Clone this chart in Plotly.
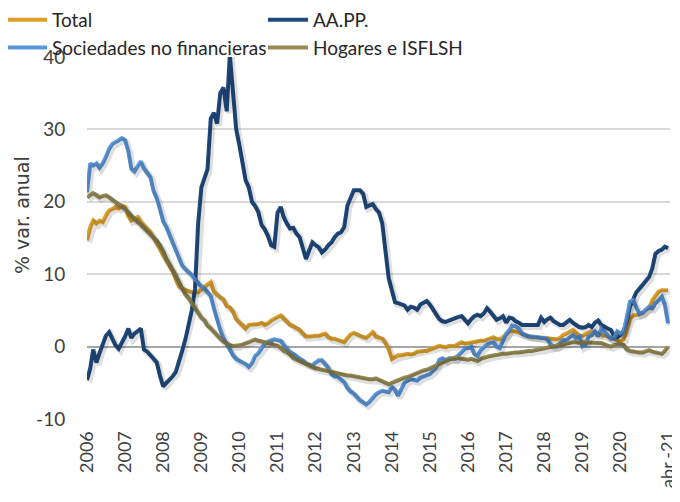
import pandas as pd
import plotly.graph_objects as go

# Monthly dates: Jan 2006 .. Apr 2021
months = pd.date_range("2006-01-01", "2021-04-01", freq="MS")

tick_dates = [f"{y}-01-01" for y in range(2006, 2021)] + ["2021-04-01"]
tick_labels = [str(y) for y in range(2006, 2021)] + ["abr.-21"]
y_ticks = [-10, 0, 10, 20, 30, 40]
y_tick_labels = ["-10", "0", "10", "20", "30", "40"]

series_names = ["Total", "AA.PP.", "Sociedades no financieras", "Hogares e ISFLSH"]

total = [
    14.7, 16.5, 17.4, 17.0, 17.4, 17.2, 18.1, 18.8, 19.0, 19.3, 19.1, 19.5,  # 2006
    19.3, 18.0, 17.4, 17.6, 17.9, 17.2, 16.8, 16.3, 15.8, 15.1, 14.4, 13.5,  # 2007
    12.6, 11.9, 11.2, 10.4, 9.3, 8.3, 8.0, 7.8, 7.6, 7.5, 7.5, 7.5,          # 2008
    7.9, 8.2, 8.6, 8.9, 7.6, 7.1, 6.8, 6.5, 5.6, 5.4, 4.8, 3.8,              # 2009
    3.3, 3.0, 2.5, 3.0, 3.1, 3.1, 3.1, 3.3, 3.0, 3.2, 3.6, 3.9,              # 2010
    4.1, 4.3, 3.9, 3.5, 3.0, 2.8, 2.6, 2.3, 1.8, 1.4, 1.4, 1.5,              # 2011
    1.5, 1.5, 1.6, 1.8, 1.3, 1.1, 1.1, 0.9, 0.8, 0.6, 1.2, 1.7,              # 2012
    1.9, 1.7, 1.4, 1.3, 1.2, 1.6, 2.0, 1.4, 1.3, 1.1, 0.5, -0.3,             # 2013
    -1.7, -1.5, -1.2, -1.2, -1.1, -1.0, -1.1, -1.0, -0.7, -0.6, -0.6, -0.6,  # 2014
    -0.4, -0.3, -0.1, 0.1, 0.0, -0.1, 0.1, 0.1, 0.1, 0.4, 0.6, 0.4,          # 2015
    0.5, 0.6, 0.7, 0.8, 0.8, 0.8, 1.0, 1.2, 1.3, 1.0, 1.0, 1.3,              # 2016
    1.8, 2.1, 2.2, 2.1, 2.0, 1.8, 1.6, 1.4, 1.3, 1.3, 1.3, 1.3,              # 2017
    1.3, 1.2, 1.1, 1.1, 1.0, 1.2, 1.6, 1.8, 2.0, 2.3, 1.9, 1.5,              # 2018
    1.5, 1.7, 1.9, 2.1, 2.0, 1.8, 1.6, 1.5, 1.4, 1.2, 1.0, 0.8,              # 2019
    0.7, 1.0, 2.5, 3.9, 4.3, 4.4, 4.4, 4.6, 5.1, 5.3, 6.4, 7.1,              # 2020
    7.6, 7.8, 7.8, 7.8,                                                      # 2021
]

aapp = [
    -4.6, -3.0, -0.4, -2.2, -0.9, 0.3, 1.5, 2.0, 1.0, 0.2, -0.3, 0.5,        # 2006
    1.4, 2.5, 1.2, 1.8, 2.1, 2.5, -0.4, -0.7, -1.2, -1.8, -2.2, -4.0,        # 2007
    -5.5, -5.0, -4.6, -4.1, -3.5, -2.2, -0.6, 1.0, 2.8, 5.0, 8.0, 17.0,      # 2008
    22.0, 23.5, 24.5, 31.5, 32.3, 30.8, 35.0, 35.8, 32.5, 40.3, 35.5, 30.0,  # 2009
    27.8, 25.0, 23.0, 22.0, 20.0, 19.4, 18.6, 16.8, 16.2, 15.3, 14.0, 13.8,  # 2010
    18.5, 19.3, 17.9, 17.0, 16.3, 16.4, 15.6, 15.1, 13.7, 12.1, 13.3, 14.4,  # 2011
    14.0, 13.7, 13.0, 13.4, 14.0, 14.4, 15.1, 15.6, 15.8, 16.5, 19.5, 20.4,  # 2012
    21.6, 21.6, 21.6, 21.1, 19.3, 19.5, 19.7, 19.0, 18.5, 17.0, 13.0, 9.5,   # 2013
    7.8, 6.1, 6.0, 5.8, 5.7, 5.1, 5.5, 5.4, 5.1, 5.8, 6.1, 6.3,              # 2014
    5.8, 5.1, 4.5, 3.8, 3.5, 3.4, 3.6, 3.8, 4.0, 4.1, 4.2, 3.8,              # 2015
    3.2, 3.8, 4.2, 4.4, 4.2, 4.6, 5.3, 4.8, 4.2, 3.7, 3.9, 4.2,              # 2016
    3.3, 4.0, 3.9, 3.5, 3.3, 3.0, 3.0, 3.0, 3.0, 3.0, 3.0, 4.0,              # 2017
    3.4, 3.8, 4.0, 3.5, 3.2, 3.0, 3.0, 3.3, 3.7, 3.3, 3.0, 2.7,              # 2018
    2.6, 2.7, 3.0, 2.7, 3.3, 3.6, 3.0, 2.7, 2.5, 2.3, 1.5, 1.3,              # 2019
    1.6, 2.2, 3.5, 5.5, 6.5, 7.5, 8.0, 8.5, 9.0, 9.6, 10.8, 12.8,            # 2020
    13.2, 13.4, 13.8, 13.6,                                                  # 2021
]

sociedades = [
    21.3, 25.3, 25.0, 25.3, 24.7, 25.3, 26.2, 27.3, 28.0, 28.2, 28.5, 28.8,  # 2006
    28.5, 27.0, 24.6, 24.2, 24.8, 25.6, 24.6, 24.0, 23.4, 21.5, 20.5, 19.0,  # 2007
    17.3, 16.5, 15.5, 14.2, 13.2, 12.3, 11.2, 10.7, 10.3, 9.9, 9.3, 8.8,     # 2008
    8.3, 8.0, 7.5, 7.0, 5.3, 3.5, 2.3, 1.2, 0.3, -0.6, -1.2, -1.7,           # 2009
    -2.0, -2.2, -2.4, -2.8, -2.3, -1.3, -0.9, -0.3, 0.4, 0.7, 0.9, 1.0,      # 2010
    0.9, 0.8, 0.2, -0.4, -0.8, -1.0, -1.4, -1.7, -1.9, -2.3, -2.5, -2.6,     # 2011
    -2.2, -1.9, -1.9, -2.4, -2.9, -3.8, -4.1, -4.2, -4.5, -4.9, -5.7, -6.2,  # 2012
    -6.5, -7.0, -7.4, -7.7, -8.0, -7.6, -7.0, -6.6, -6.3, -6.1, -6.2, -6.3,  # 2013
    -5.6, -6.0, -6.8, -5.8, -5.0, -4.7, -4.5, -4.6, -4.7, -4.3, -4.1, -4.0,  # 2014
    -3.8, -3.3, -2.9, -1.8, -1.6, -1.9, -1.6, -1.6, -1.7, -1.2, -0.8, -0.3,  # 2015
    -0.2, 0.0, -1.0, -1.3, -0.5, 0.0, 0.3, 0.5, 0.6, 0.0, -0.2, 0.8,         # 2016
    1.8, 2.3, 2.9, 2.8, 2.5, 1.8, 1.6, 1.4, 1.4, 1.4, 1.3, 1.2,              # 2017
    1.2, 1.0, 0.3, 0.0, 0.0, 0.5, 0.9, 0.9, 1.2, 1.6, 1.1, 1.4,              # 2018
    0.0, 0.2, 1.4, 1.6, 2.1, 1.4, 2.5, 2.0, 1.6, 1.1, 1.1, 2.1,              # 2019
    1.8, 2.0, 4.0, 6.2, 6.4, 5.5, 4.5, 4.7, 5.2, 5.5, 5.3, 6.0,              # 2020
    6.4, 6.9, 5.8, 3.2,                                                      # 2021
]

hogares = [
    20.6, 20.9, 21.2, 20.9, 20.6, 20.8, 20.9, 20.6, 20.3, 20.0, 19.7, 19.4,  # 2006
    19.0, 18.5, 18.1, 17.7, 17.2, 16.8, 16.3, 15.9, 15.4, 15.0, 14.6, 14.0,  # 2007
    13.2, 12.1, 11.4, 10.5, 9.8, 8.9, 8.0, 7.2, 6.7, 6.0, 5.3, 4.7,          # 2008
    4.0, 3.6, 2.9, 2.5, 2.0, 1.5, 1.1, 0.7, 0.4, 0.2, 0.1, 0.1,              # 2009
    0.2, 0.3, 0.4, 0.6, 0.8, 1.0, 0.8, 0.7, 0.6, 0.6, 0.4, 0.2,              # 2010
    0.1, -0.2, -0.6, -0.8, -1.1, -1.6, -1.8, -2.0, -2.3, -2.5, -2.7, -2.9,   # 2011
    -3.0, -3.1, -3.2, -3.3, -3.5, -3.5, -3.6, -3.8, -3.9, -3.9, -4.0, -4.0,  # 2012
    -4.1, -4.2, -4.3, -4.4, -4.5, -4.5, -4.5, -4.4, -4.6, -4.8, -5.1, -5.2,  # 2013
    -5.0, -4.8, -4.7, -4.5, -4.3, -4.2, -4.0, -3.8, -3.6, -3.4, -3.3, -3.2,  # 2014
    -3.0, -2.8, -2.6, -2.3, -2.1, -1.9, -1.8, -1.7, -1.5, -1.6, -1.7, -1.8,  # 2015
    -1.8, -1.7, -1.8, -2.0, -1.7, -1.5, -1.4, -1.3, -1.2, -1.1, -1.0, -1.0,  # 2016
    -1.0, -0.9, -0.8, -0.8, -0.8, -0.7, -0.6, -0.6, -0.6, -0.5, -0.5, -0.4,  # 2017
    -0.3, -0.2, -0.1, 0.0, 0.1, 0.2, 0.3, 0.5, 0.5, 0.6, 0.6, 0.5,           # 2018
    0.6, 0.6, 0.6, 0.6, 0.6, 0.5, 0.5, 0.3, 0.1, 0.0, 0.2, 0.3,              # 2019
    0.4, 0.2, -0.4, -0.6, -0.7, -0.8, -0.8, -0.8, -0.6, -0.5, -0.7, -0.8,    # 2020
    -0.9, -1.0, -0.6, 0.0,                                                   # 2021
]

colors = ["#DBA02C", "#1F4A7E", "#5A96DA", "#968B55"]
values = [total, aapp, sociedades, hogares]

for v in values:
    assert len(v) == len(months), (len(v), len(months))

FONT = "Lato"
X_RANGE = ["2006-01-01", "2021-04-20"]
Y_RANGE = [-10, 40]

# The page body keeps its default 8 px margin, so the figure is 8 px smaller
# and every position below is given relative to that offset.
W, H = 672, 494
L, R, T, B = 79, 10, 49, 83
PW, PH = W - L - R, H - T - B

fig = go.Figure()

# soft drop shadows (drawn on an overlay axis pair shifted by a couple of pixels)
shift_days = 19
x_shadow = [pd.Timestamp(X_RANGE[0]) - pd.Timedelta(days=shift_days),
            pd.Timestamp(X_RANGE[1]) - pd.Timedelta(days=shift_days)]
for v in values:
    fig.add_trace(go.Scatter(
        x=months, y=v, mode="lines", showlegend=False, hoverinfo="skip",
        line=dict(color="rgba(0,0,0,0.13)", width=6),
        xaxis="x2", yaxis="y2",
    ))

for name, v, c in zip(series_names, values, colors):
    fig.add_trace(go.Scatter(
        x=months, y=v, mode="lines", name=name,
        line=dict(color=c, width=4),
    ))

fig.update_layout(
    width=W, height=H,
    margin=dict(l=L, r=R, t=T, b=B, autoexpand=False),
    paper_bgcolor="white", plot_bgcolor="white",
    font=dict(family=FONT, size=17, color="#404040"),
    showlegend=True,
    legend=dict(
        orientation="h", xref="paper", yref="paper",
        x=(-6 - L) / PW, y=1 + (T + 7) / PH, xanchor="left", yanchor="top",
        entrywidth=206, entrywidthmode="pixels",
        font=dict(size=19, color="#262626"),
        bgcolor="rgba(0,0,0,0)", tracegroupgap=0, itemwidth=40,
    ),
    xaxis=dict(
        type="date", range=X_RANGE,
        tickvals=tick_dates, ticktext=tick_labels, tickangle=-90,
        showgrid=False, showline=False, zeroline=False,
        ticks="outside", ticklen=4, tickcolor="rgba(0,0,0,0)",
        tickfont=dict(size=18, color="#404040"),
    ),
    yaxis=dict(
        range=Y_RANGE, tickvals=y_ticks, ticktext=y_tick_labels,
        showgrid=True, gridcolor="#D9D9D9", gridwidth=1.5,
        zeroline=True, zerolinecolor="#A6A6A6", zerolinewidth=1.5,
        showline=False,
        ticks="outside", ticklen=17, tickcolor="rgba(0,0,0,0)",
        tickfont=dict(size=19, color="#404040"),
    ),
    xaxis2=dict(type="date", range=x_shadow, overlaying="x", visible=False),
    yaxis2=dict(range=[Y_RANGE[0] + 0.3, Y_RANGE[1] + 0.3], overlaying="y", visible=False),
    annotations=[dict(
        text="% var. anual", textangle=-90, showarrow=False,
        xref="paper", yref="paper", x=(14 - L) / PW, y=(411 - 207) / PH,
        xanchor="center", yanchor="middle",
        font=dict(family="DejaVu Sans", size=19, color="#404040"),
    )],
)

fig.write_html("out.html")
